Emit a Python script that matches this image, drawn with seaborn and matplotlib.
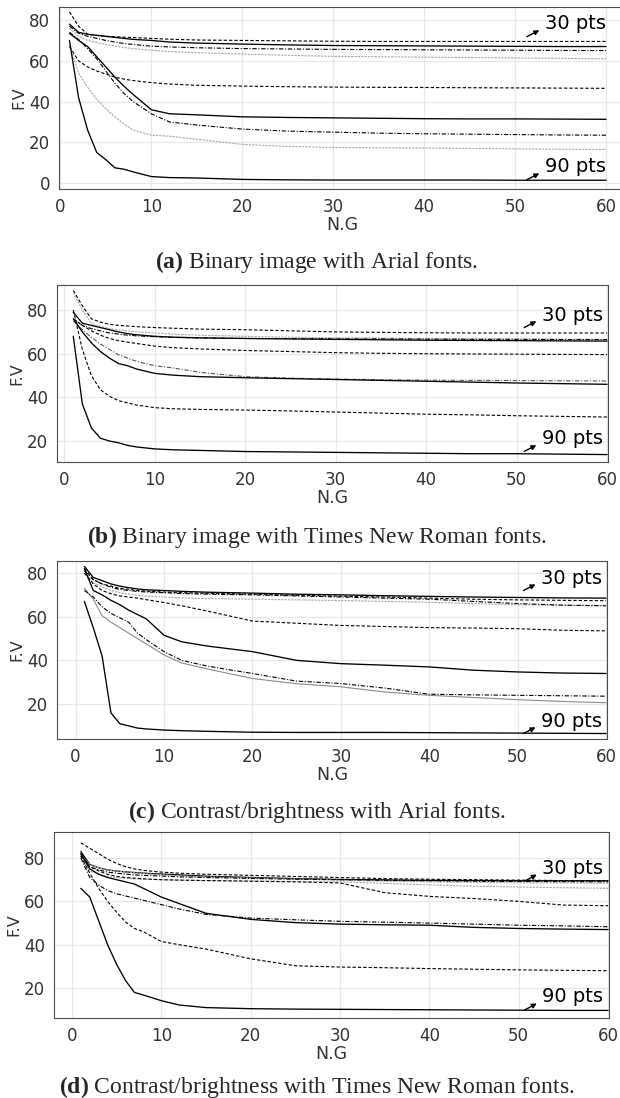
import seaborn as sns
import matplotlib.pyplot as plt
from matplotlib.ticker import MultipleLocator

# number of generations (x axis), sampled where the curves were read
NG = [1, 2, 3, 4, 5, 6, 7, 8, 10, 12, 15, 20, 25, 30, 35, 40, 45, 50, 55, 60]

# (a) binary image, Arial
a_lines = [
    [84, 77, 73, 72.5, 72, 71.8, 71.6, 71.4, 71, 70.6, 70.2, 70, 69.8, 69.6, 69.5, 69.5, 69.5, 69.5, 69.5, 69.5],
    [78, 74, 73, 72.5, 72, 71.5, 71, 70.5, 70, 69.2, 68.7, 68.2, 67.8, 67.5, 67.4, 67.3, 67.2, 67.1, 67, 67],
    [77, 73.5, 72, 71, 70, 69.2, 68.5, 68, 67.2, 66.8, 66.4, 66, 65.8, 65.6, 65.5, 65.4, 65.3, 65.2, 65.1, 65],
    [76, 72, 70, 69, 68, 67.2, 66.5, 66, 65.2, 64.5, 64, 63.3, 62.7, 62.2, 62, 61.8, 61.6, 61.4, 61.2, 61],
    [67, 60, 57, 55, 53.5, 52, 51, 50.3, 49.3, 48.6, 48, 47.6, 47.3, 47.1, 47, 46.9, 46.8, 46.7, 46.6, 46.5],
    [73.5, 70, 67, 62, 57, 52, 47.5, 43.5, 36, 34, 33.5, 32.5, 32.2, 32, 31.8, 31.6, 31.5, 31.5, 31.4, 31.3],
    [74, 70.5, 66, 61, 55, 49, 44, 40, 34, 30, 28.5, 26.5, 25.5, 25, 24.5, 24.2, 24, 23.8, 23.6, 23.5],
    [68, 54, 47, 41, 36.5, 32.5, 29, 26, 23.5, 23, 21.5, 19, 18, 17.5, 17.3, 17.2, 17, 16.8, 16.6, 16.5],
    [70, 42, 26, 15, 11.5, 7.5, 6.8, 5.5, 3.2, 2.7, 2.5, 1.8, 1.6, 1.5, 1.5, 1.5, 1.5, 1.4, 1.4, 1.4],
]
a_styles = ["D", "S", "DD", "G", "D", "S", "DD", "G", "S"]

# (b) binary image, Times New Roman
b_lines = [
    [89, 82, 76, 74.5, 73.5, 73, 72.7, 72.4, 72, 71.7, 71.3, 71, 70.5, 70, 69.8, 69.6, 69.5, 69.5, 69.5, 69.5],
    [88, 80, 74, 72.5, 71.5, 71, 70.5, 70, 69.5, 69, 68.5, 68, 67.6, 67.3, 67.2, 67, 66.9, 66.8, 66.7, 66.6],
    [79, 74, 73, 72, 71, 70, 69.2, 68.7, 68, 67.6, 67.3, 67, 66.8, 66.6, 66.4, 66.2, 66.1, 66, 65.9, 65.8],
    [76, 73, 71.5, 70.5, 69.5, 69, 68.5, 68.2, 67.8, 67.5, 67.2, 67, 66.9, 66.8, 66.8, 66.7, 66.6, 66.6, 66.5, 66.5],
    [76, 73, 70.5, 68.5, 67, 66, 65.3, 64.7, 63.5, 62.8, 62.2, 61.5, 61, 60.5, 60.2, 60, 59.9, 59.8, 59.7, 59.6],
    [75, 71, 67.5, 64.5, 62, 59.5, 58, 56.5, 54.5, 53.5, 51.5, 49.5, 48.8, 48.4, 48.1, 47.9, 47.8, 47.7, 47.6, 47.5],
    [76, 70, 65, 61, 58, 55.5, 54.5, 53, 51, 50.2, 49.5, 49, 48.6, 48.2, 47.8, 47.4, 47, 46.6, 46.3, 46],
    [80, 62, 50, 43.5, 40.5, 38.5, 37.5, 36.5, 35.3, 34.8, 34.5, 34.2, 33.8, 33.3, 32.8, 32.3, 32, 31.6, 31.3, 31],
    [68, 37, 26, 21.3, 20, 19.2, 18, 17.3, 16.4, 16, 15.7, 15.2, 15, 14.8, 14.6, 14.4, 14.2, 14.2, 14, 13.8],
]
b_styles = ["D", "G", "S", "DD", "D", "GD", "S", "D", "S"]

# (c) contrast/brightness, Arial
c_lines = [
    [83, 78, 76.5, 75, 74, 73.3, 72.7, 72.3, 72, 71.6, 71.2, 70.8, 70.3, 70, 69.6, 69.3, 69, 68.8, 68.6, 68.5],
    [82, 77, 75, 74, 73, 72.5, 72, 71.7, 71.3, 71, 70.7, 70.3, 69.8, 69.4, 69, 68.5, 68, 67.7, 67.5, 67.3],
    [80, 75.5, 73.5, 72, 71, 70.3, 69.8, 69.4, 69, 68.6, 68.3, 68, 67.7, 67.4, 67, 66.6, 66, 65.5, 65.2, 65],
    [81, 77, 75, 73.5, 72.5, 72, 71.6, 71.3, 71, 70.6, 70.3, 70, 69.5, 69, 68.5, 68, 67, 66, 65.3, 65],
    [80, 75, 72, 70.5, 69.5, 69, 68.5, 67.8, 66.5, 65, 62.5, 58, 57, 56, 55.5, 55, 54.8, 54.5, 53.8, 53.5],
    [82, 72, 70, 67.5, 65.5, 63, 61, 59, 51.5, 48.5, 46.5, 44, 40, 38.5, 37.8, 37, 35.5, 34.7, 34.2, 34],
    [73, 68, 60.5, 57.5, 55, 52.5, 50, 47.5, 42.5, 38.8, 36, 31.7, 29.3, 27.9, 25.5, 24, 23, 22, 21.2, 20.6],
    [72, 69, 64.5, 61.5, 59.5, 57.5, 52.5, 49.5, 44, 40, 37.3, 34, 30.5, 29.4, 27.3, 24.5, 24.2, 24, 23.8, 23.6],
    [67, 55, 42, 16, 11, 10, 9, 8.6, 8.1, 7.8, 7.5, 7.1, 7, 7, 7, 6.9, 6.8, 6.7, 6.6, 6.5],
]
c_styles = ["S", "D", "G", "DD", "D", "S", "GS", "DD", "S"]

# (d) contrast/brightness, Times New Roman
d_lines = [
    [87, 84.5, 82, 79.5, 77.5, 76, 75, 74.3, 73.5, 73, 72.5, 72, 71.5, 71, 70.5, 70.2, 70, 69.8, 69.6, 69.5],
    [83, 77, 75.5, 74.5, 74, 73.6, 73.3, 73, 72.6, 72.2, 71.6, 71, 70.5, 70.1, 69.9, 69.7, 69.6, 69.5, 69.5, 69.5],
    [81, 77, 75.5, 74.5, 74, 73.6, 73.2, 72.8, 72.3, 71.8, 71.3, 70.8, 70.3, 69.8, 69.3, 69, 68.8, 68.6, 68.5, 68.4],
    [82, 76, 74.5, 73.5, 73, 72.6, 72.2, 72, 71.7, 71.3, 71, 70.6, 70.2, 70, 69.7, 69.5, 69.3, 69.2, 69.1, 69],
    [80, 74, 72.5, 71.5, 71, 70.7, 70.4, 70.2, 70, 69.8, 69.6, 69.4, 69.2, 69, 68.3, 67.6, 67, 66.6, 66.3, 66],
    [81, 76, 74, 72.5, 71.5, 71, 70.7, 70.4, 70, 69.8, 69.6, 69.3, 69, 68.5, 64, 62.3, 61.3, 60, 58.3, 58],
    [82, 75, 72.5, 71, 70, 69, 68, 66, 62, 59, 54.5, 51.7, 50.2, 49.5, 49.2, 49, 48, 47.5, 47.2, 47],
    [80, 71, 67.5, 65, 63.5, 62.5, 61.5, 60.5, 58.5, 56.5, 54, 52.3, 51.5, 50.8, 50.4, 50, 49.5, 49, 48.7, 48.3],
    [81, 73, 66, 60, 55, 50.5, 47.5, 46, 41.5, 40, 38, 33.5, 30.3, 29.7, 29.4, 29, 28.7, 28.4, 28.2, 28],
    [66, 62, 51, 40, 31, 23.5, 18, 16.8, 14.2, 12.2, 11, 10.5, 10.3, 10.2, 10.1, 10, 9.9, 9.8, 9.7, 9.7],
]
d_styles = ["D", "S", "G", "DD", "G", "D", "S", "DD", "D", "S"]

captions = [
    r"$\mathbf{(a)}$ Binary image with Arial fonts.",
    r"$\mathbf{(b)}$ Binary image with Times New Roman fonts.",
    r"$\mathbf{(c)}$ Contrast/brightness with Arial fonts.",
    r"$\mathbf{(d)}$ Contrast/brightness with Times New Roman fonts.",
]

line_kw = {
    "S": dict(color="black", linestyle="-", linewidth=0.95),
    "D": dict(color="black", linestyle=(0, (3, 1.8)), linewidth=0.8),
    "DD": dict(color="black", linestyle=(0, (4, 1.5, 1, 1.5)), linewidth=0.8),
    "G": dict(color="#a8a8a8", linestyle=(0, (2, 1)), linewidth=0.8),
    "GD": dict(color="#555555", linestyle=(0, (4, 1.5, 1, 1.5)), linewidth=0.8),
    "GS": dict(color="#8a8a8a", linestyle="-", linewidth=0.8),
}

sns.set_style("whitegrid", {"grid.color": ".91", "axes.edgecolor": ".3",
                            "axes.linewidth": 1.2})
plt.rcParams["font.family"] = ["DejaVu Sans"]
plt.rcParams["mathtext.fontset"] = "custom"
plt.rcParams["mathtext.rm"] = "Liberation Serif"
plt.rcParams["mathtext.bf"] = "Liberation Serif:bold"

fig = plt.figure(figsize=(6.2, 10.98), dpi=100)

W, H = 620, 1098
# axes boxes in pixels: left, right, top, bottom
boxes = [(59, 626, 7, 189), (57, 608, 285, 462), (57, 607, 561, 739), (54, 609, 832, 1018)]
xlims = [(-0.15, 62.2), (-0.8, 60.1), (-2.1, 60.1), (-2.0, 60.1)]
ylims = [(-2.9, 86.4), (10.4, 91.5), (4.0, 85.5), (6.2, 92.0)]
caption_y = [262, 537, 812, 1087]
label_y = [(0.907, 0.121), (0.83, 0.13), (0.904, 0.101), (0.806, 0.113)]

panels = [(a_lines, a_styles), (b_lines, b_styles), (c_lines, c_styles), (d_lines, d_styles)]

for i, (lines, styles) in enumerate(panels):
    l, r, t, b = boxes[i]
    ax = fig.add_axes([l / W, 1 - b / H, (r - l) / W, (b - t) / H])
    for vals, st in zip(lines, styles):
        sns.lineplot(x=NG, y=vals, ax=ax, **line_kw[st])
    ax.set_xlim(*xlims[i])
    ax.set_ylim(*ylims[i])
    ax.xaxis.set_major_locator(MultipleLocator(10))
    ax.yaxis.set_major_locator(MultipleLocator(20))
    ax.grid(True, linewidth=0.9)
    ax.tick_params(labelsize=12, labelcolor="#333333", pad=3)
    for lab in ax.get_xticklabels() + ax.get_yticklabels():
        lab.set_fontfamily("DejaVu Sans")
    ax.set_xlabel("N.G", fontsize=12.5, color="#333333", labelpad=0)
    ax.set_ylabel("F.V", fontsize=11.5, color="#333333", labelpad=2)
    if i == 0:
        ax.spines["right"].set_visible(False)

    # point-size annotations
    x_txt = (545 - l) / (r - l) if i == 0 else 0.88
    for label, yf in zip(["30 pts", "90 pts"], label_y[i]):
        ax.text(x_txt, yf, label, transform=ax.transAxes, fontsize=14,
                va="center", ha="left", color="black")
        ax.annotate("", xy=(x_txt - 0.01, yf - 0.035), xytext=(x_txt - 0.032, yf - 0.07),
                    xycoords="axes fraction", textcoords="axes fraction",
                    arrowprops=dict(arrowstyle="-|>", color="black", lw=1.0,
                                    mutation_scale=7, shrinkA=0, shrinkB=0))

    fig.text(0.511, 1 - caption_y[i] / H, captions[i], ha="center", va="center",
             fontsize=17, family="Liberation Serif")

fig.savefig("out.png", dpi=100)
